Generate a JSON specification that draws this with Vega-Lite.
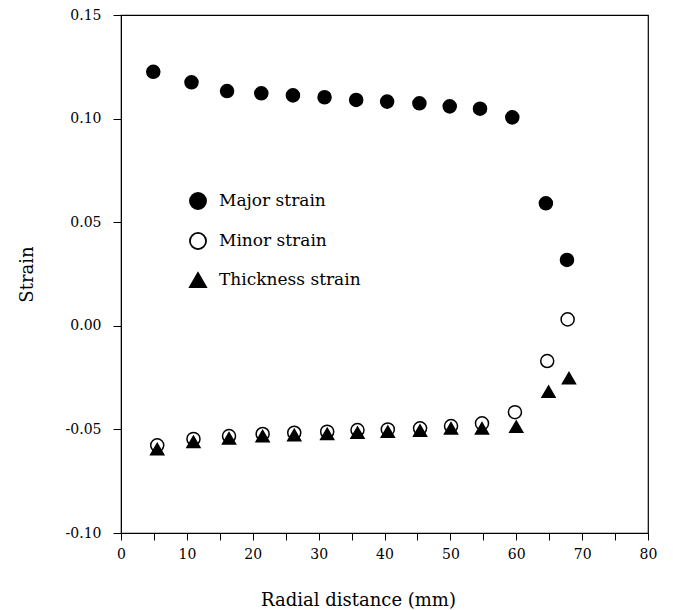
{
  "$schema": "https://vega.github.io/schema/vega-lite/v6.json",
  "width": 527,
  "height": 518,
  "autosize": {"type": "none"},
  "padding": {"left": 121, "top": 15, "right": 25, "bottom": 77},
  "background": "white",
  "config": {
    "font": "DejaVu Serif",
    "view": {"stroke": "black", "strokeWidth": 1.2},
    "axis": {"domainColor": "black", "tickColor": "black", "labelColor": "black", "titleColor": "black", "grid": false, "labelFont": "DejaVu Serif", "titleFont": "DejaVu Serif", "titleFontWeight": "normal", "labelFontSize": 14, "titleFontSize": 18}
  },
  "data": {
    "values": [
      {"x": 4.9, "y": 0.1226, "series": "Major strain"},
      {"x": 10.7, "y": 0.1175, "series": "Major strain"},
      {"x": 16.1, "y": 0.1133, "series": "Major strain"},
      {"x": 21.3, "y": 0.1122, "series": "Major strain"},
      {"x": 26.1, "y": 0.1112, "series": "Major strain"},
      {"x": 30.9, "y": 0.1103, "series": "Major strain"},
      {"x": 35.7, "y": 0.109, "series": "Major strain"},
      {"x": 40.4, "y": 0.1082, "series": "Major strain"},
      {"x": 45.3, "y": 0.1074, "series": "Major strain"},
      {"x": 49.9, "y": 0.1059, "series": "Major strain"},
      {"x": 54.5, "y": 0.1048, "series": "Major strain"},
      {"x": 59.4, "y": 0.1006, "series": "Major strain"},
      {"x": 64.5, "y": 0.0591, "series": "Major strain"},
      {"x": 67.7, "y": 0.0318, "series": "Major strain"},
      {"x": 5.5, "y": -0.0577, "series": "Minor strain"},
      {"x": 11.0, "y": -0.0546, "series": "Minor strain"},
      {"x": 16.4, "y": -0.0532, "series": "Minor strain"},
      {"x": 21.5, "y": -0.0522, "series": "Minor strain"},
      {"x": 26.3, "y": -0.0516, "series": "Minor strain"},
      {"x": 31.3, "y": -0.0511, "series": "Minor strain"},
      {"x": 35.9, "y": -0.0503, "series": "Minor strain"},
      {"x": 40.5, "y": -0.05, "series": "Minor strain"},
      {"x": 45.4, "y": -0.0495, "series": "Minor strain"},
      {"x": 50.1, "y": -0.0484, "series": "Minor strain"},
      {"x": 54.8, "y": -0.0471, "series": "Minor strain"},
      {"x": 59.8, "y": -0.0417, "series": "Minor strain"},
      {"x": 64.7, "y": -0.017, "series": "Minor strain"},
      {"x": 67.8, "y": 0.0031, "series": "Minor strain"},
      {"x": 5.5, "y": -0.0595, "series": "Thickness strain"},
      {"x": 11.0, "y": -0.056, "series": "Thickness strain"},
      {"x": 16.4, "y": -0.0543, "series": "Thickness strain"},
      {"x": 21.5, "y": -0.0532, "series": "Thickness strain"},
      {"x": 26.3, "y": -0.0527, "series": "Thickness strain"},
      {"x": 31.3, "y": -0.0522, "series": "Thickness strain"},
      {"x": 35.9, "y": -0.0516, "series": "Thickness strain"},
      {"x": 40.5, "y": -0.0511, "series": "Thickness strain"},
      {"x": 45.4, "y": -0.0506, "series": "Thickness strain"},
      {"x": 50.1, "y": -0.0495, "series": "Thickness strain"},
      {"x": 54.8, "y": -0.0495, "series": "Thickness strain"},
      {"x": 60.0, "y": -0.0487, "series": "Thickness strain"},
      {"x": 64.9, "y": -0.0318, "series": "Thickness strain"},
      {"x": 68.0, "y": -0.0253, "series": "Thickness strain"}
    ]
  },
  "mark": {"type": "point", "filled": false, "stroke": "black", "strokeWidth": 1.5, "size": 170, "opacity": 1},
  "encoding": {
    "x": {
      "field": "x", "type": "quantitative",
      "scale": {"domain": [0, 80], "nice": false, "zero": false},
      "axis": {"title": "Radial distance (mm)", "values": [0,5,10,15,20,25,30,35,40,45,50,55,60,65,70,75,80], "labelExpr": "datum.value % 10 === 0 ? datum.label : ''", "tickSize": 7, "labelPadding": 7, "titlePadding": 30, "titleX": 237, "labelFlush": false}
    },
    "y": {
      "field": "y", "type": "quantitative",
      "scale": {"domain": [-0.1, 0.15], "nice": false, "zero": false},
      "axis": {"title": "Strain", "values": [-0.1, -0.05, 0, 0.05, 0.1, 0.15], "format": ".2f", "labelExpr": "replace(datum.label, '−', '-')", "tickSize": 8, "labelPadding": 12, "titlePadding": 29, "labelFlush": false}
    },
    "shape": {
      "field": "series", "type": "nominal",
      "scale": {"domain": ["Major strain", "Minor strain", "Thickness strain"], "range": ["circle", "circle", "triangle-up"]},
      "legend": {"title": null, "orient": "none", "legendX": 68, "legendY": 177, "symbolSize": 260, "symbolStrokeWidth": 1.8, "labelFontSize": 17, "labelFont": "DejaVu Serif", "labelColor": "black", "rowPadding": 16, "labelOffset": 12, "padding": 0}
    },
    "fill": {
      "field": "series", "type": "nominal",
      "scale": {"domain": ["Major strain", "Minor strain", "Thickness strain"], "range": ["black", "white", "black"]},
      "legend": {"title": null, "orient": "none", "legendX": 68, "legendY": 177, "symbolSize": 260, "symbolStrokeWidth": 1.8, "labelFontSize": 17, "labelFont": "DejaVu Serif", "labelColor": "black", "rowPadding": 16, "labelOffset": 12, "padding": 0}
    }
  }
}
